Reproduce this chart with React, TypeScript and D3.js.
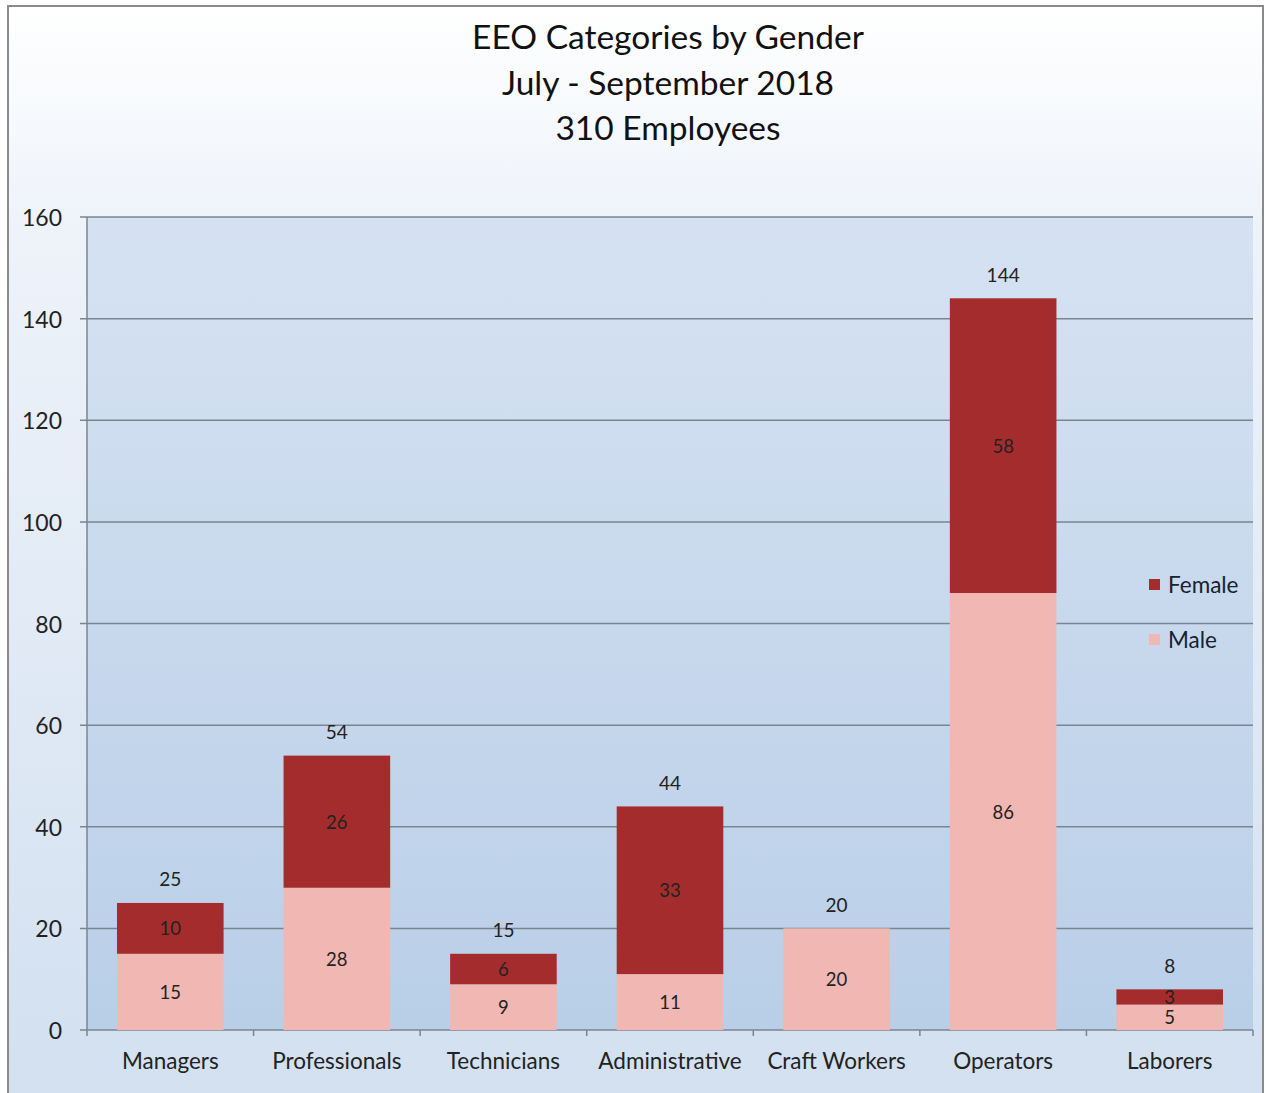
import React from "react";
import * as d3 from "d3";

const categories = ["Managers", "Professionals", "Technicians", "Administrative", "Craft Workers", "Operators", "Laborers"];
const male = [15, 28, 9, 11, 20, 86, 5];
const female = [10, 26, 6, 33, 0, 58, 3];
const totals = [25, 54, 15, 44, 20, 144, 8];
const yTicks = [0, 20, 40, 60, 80, 100, 120, 140, 160];
const titleLines = ["EEO Categories by Gender", "July - September  2018", "310 Employees"];
const seriesNames = ["Female", "Male"];

const W = 1266, H = 1093;
const plot = { left: 87, right: 1253, top: 217, bottom: 1030 };
const FEMALE = "#a52c2c";
const MALE = "#f1b7b3";
const FONT = "Lato, 'Open Sans', sans-serif";

export default function App() {
  const x = d3.scaleBand<string>().domain(categories).range([plot.left, plot.right]).paddingInner(0.36).paddingOuter(0.18);
  const step = x.step();
  const y = d3.scaleLinear().domain([0, 160]).range([plot.bottom, plot.top]);
  const series = [
    { name: "Male", values: male, color: MALE, base: categories.map(() => 0) },
    { name: "Female", values: female, color: FEMALE, base: male },
  ];
  return (
    <svg width={W} height={H} style={{ display: "block", position: "absolute", left: 0, top: 0 }}>
      <defs>
        <linearGradient id="outerG" x1="0" y1="0" x2="0" y2="1">
          <stop offset="0" stopColor="#ffffff" />
          <stop offset="0.2" stopColor="#eef3fa" />
          <stop offset="1" stopColor="#d2e0f0" />
        </linearGradient>
        <linearGradient id="plotG" x1="0" y1="0" x2="0" y2="1">
          <stop offset="0" stopColor="#d6e2f2" />
          <stop offset="1" stopColor="#b9cfe8" />
        </linearGradient>
      </defs>
      <rect x={8} y={6} width={1255} height={1090} fill="url(#outerG)" stroke="#8a8a8a" strokeWidth={2} />
      <rect x={plot.left} y={plot.top} width={plot.right - plot.left} height={plot.bottom - plot.top} fill="url(#plotG)" />
      {titleLines.map((t, i) => (
        <text key={t} x={668} y={36 + i * 45.5} textAnchor="middle" dominantBaseline="central" fontFamily={FONT} fontSize={33.5} fill="#111">{t}</text>
      ))}
      {yTicks.map((t) => (
        <g key={t}>
          <line x1={plot.left - 7} x2={plot.right} y1={y(t)} y2={y(t)} stroke="#7b858f" strokeWidth={1.5} />
          <text x={62} y={y(t)} textAnchor="end" dominantBaseline="central" fontFamily={FONT} fontSize={23} fill="#222">{t}</text>
        </g>
      ))}
      <line x1={plot.left} x2={plot.left} y1={plot.top} y2={plot.bottom} stroke="#7b858f" strokeWidth={1.5} />
      {categories.map((c, i) => (
        <line key={"tk" + c} x1={plot.left + step * (i + 1)} x2={plot.left + step * (i + 1)} y1={plot.bottom} y2={plot.bottom + 6} stroke="#7b858f" strokeWidth={1.5} />
      ))}
      <line x1={plot.left} x2={plot.left} y1={plot.bottom} y2={plot.bottom + 6} stroke="#7b858f" strokeWidth={1.5} />
      {series.map((s) =>
        categories.map((c, i) => {
          const v = s.values[i];
          if (!v) return null;
          const y0 = y(s.base[i]);
          const y1 = y(s.base[i] + v);
          return <rect key={s.name + c} x={x(c)} y={y1} width={x.bandwidth()} height={y0 - y1} fill={s.color} />;
        })
      )}
      {series.map((s) =>
        categories.map((c, i) => {
          const v = s.values[i];
          if (!v) return null;
          const mid = y(s.base[i] + v / 2);
          return (
            <text key={"l" + s.name + c} x={(x(c) as number) + x.bandwidth() / 2} y={mid} textAnchor="middle" dominantBaseline="central" fontFamily={FONT} fontSize={18.5} fill="#222">{v}</text>
          );
        })
      )}
      {categories.map((c, i) => (
        <text key={"t" + c} x={(x(c) as number) + x.bandwidth() / 2} y={y(totals[i]) - 24} textAnchor="middle" dominantBaseline="central" fontFamily={FONT} fontSize={19} fill="#222">{totals[i]}</text>
      ))}
      {categories.map((c) => (
        <text key={"x" + c} x={(x(c) as number) + x.bandwidth() / 2} y={1060} textAnchor="middle" dominantBaseline="central" fontFamily={FONT} fontSize={22.5} fill="#222">{c}</text>
      ))}
      {seriesNames.map((n, i) => (
        <g key={"lg" + n}>
          <rect x={1149} y={579 + i * 55} width={11} height={11} fill={n === "Female" ? FEMALE : MALE} />
          <text x={1168} y={584 + i * 55} dominantBaseline="central" fontFamily={FONT} fontSize={22.5} fill="#1a2030">{n}</text>
        </g>
      ))}
    </svg>
  );
}
